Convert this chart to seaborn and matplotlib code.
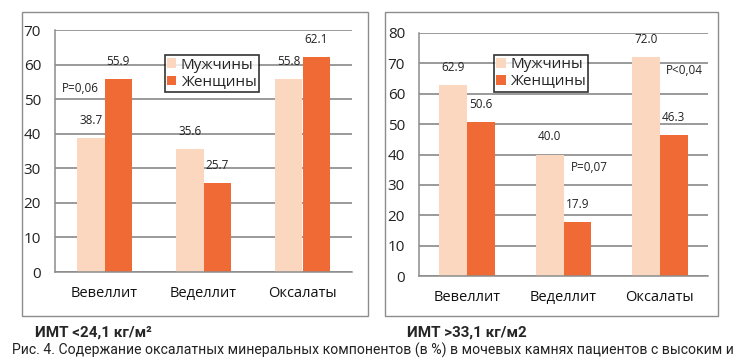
import matplotlib
matplotlib.use("Agg")
import matplotlib.pyplot as plt
import matplotlib.patches as mpatches
import seaborn as sns
import pandas as pd

sns.set_style("white")
plt.rcParams['font.family'] = ['Open Sans', 'DejaVu Sans']

# DATA
categories = ['Вевеллит', 'Веделлит', 'Оксалаты']
groups = ['Мужчины', 'Женщины']
low_men = [38.7, 35.6, 55.8]
low_women = [55.9, 25.7, 62.1]
high_men = [62.9, 40.0, 72.0]
high_women = [50.6, 17.9, 46.3]

caption_low = 'ИМТ <24,1 кг/м²'
caption_high = 'ИМТ >33,1 кг/м2'
fig_caption = ('Рис. 4. Содержание оксалатных минеральных компонентов (в %) '
               'в мочевых камнях пациентов с высоким и')

palette = {'Мужчины': '#FBD7BF', 'Женщины': '#EF6A35'}
GRID = '#7f7f7f'
cap_family = ['Roboto', 'DejaVu Sans']


def make_df(men, women):
    return pd.DataFrame({
        'cat': categories * 2,
        'sex': [groups[0]] * 3 + [groups[1]] * 3,
        'val': men + women,
    })


def draw_panel(ax, df, ymax, width, legend_box):
    sns.barplot(data=df, x='cat', y='val', hue='sex', order=categories,
                hue_order=groups, palette=palette, width=width,
                saturation=1, ax=ax, edgecolor='none', linewidth=0)
    ax.set_ylim(0, ymax)
    ax.set_xlim(-0.5, 2.5)
    ax.set_yticks(range(0, ymax + 1, 10))
    ax.yaxis.grid(True, color=GRID, linewidth=1.1)
    ax.set_axisbelow(True)
    ax.set_xlabel('')
    ax.set_ylabel('')
    for s in ['top', 'right']:
        ax.spines[s].set_visible(False)
    for s in ['left', 'bottom']:
        ax.spines[s].set_color('#8c8c8c')
        ax.spines[s].set_linewidth(1.1)
    ax.tick_params(axis='y', labelsize=11, length=4, color='#8c8c8c',
                   pad=6, labelcolor='#222222')
    ax.tick_params(axis='x', labelsize=10.5, length=0, pad=10,
                   labelcolor='#111111')
    ax.set_xticks([-0.5, 0.5, 1.5, 2.5], minor=True)
    ax.tick_params(axis='x', which='minor', length=4, color='#8c8c8c')
    for c in ax.containers:
        ax.bar_label(c, fmt='%.1f', padding=8, fontsize=8.5, color='#222222')
    leg = ax.legend(loc='upper left', bbox_to_anchor=legend_box,
                    frameon=True, fancybox=False, fontsize=11,
                    handlelength=0.6, handleheight=0.6, handletextpad=0.3,
                    borderpad=0.15, labelspacing=0.15, borderaxespad=0)
    leg.get_frame().set_edgecolor('black')
    leg.get_frame().set_linewidth(1.2)


fig = plt.figure(figsize=(7.43, 3.6), dpi=100)

# panel frames
for x0, x1 in [(22, 368), (385, 718)]:
    fig.patches.append(mpatches.Rectangle((x0 / 743, 1 - 316 / 360),
                                          (x1 - x0) / 743, 304 / 360,
                                          transform=fig.transFigure,
                                          fill=False, edgecolor='#8c8c8c',
                                          linewidth=1.0))

ax1 = fig.add_axes([55 / 743, 1 - 272 / 360, 297 / 743, 242 / 360])
draw_panel(ax1, make_df(low_men, low_women), 70, 0.55, (0.37, 0.895))
ax1.text(-0.43, 52.0, 'P=0,06', fontsize=8.5, color='#222222')

ax2 = fig.add_axes([419 / 743, 1 - 276 / 360, 289 / 743, 243 / 360])
draw_panel(ax2, make_df(high_men, high_women), 80, 0.58, (0.26, 0.91))
ax2.text(1.08, 34.5, 'P=0,07', fontsize=8.5, color='#222222')
ax2.text(2.06, 66.5, 'P<0,04', fontsize=8.5, color='#222222')

fig.text(35 / 743, 1 - 333 / 360, caption_low, fontsize=11, fontweight='bold',
         family=cap_family, va='center')
fig.text(407 / 743, 1 - 333 / 360, caption_high, fontsize=11,
         fontweight='bold', family=cap_family, va='center')
cap = fig.text(12 / 743, 1 - 350 / 360, fig_caption, fontsize=10.5,
               family=cap_family, va='center', color='#222222')

# shrink the long caption so it fits the width like in the original
r = fig.canvas.get_renderer()
w = cap.get_window_extent(renderer=r).width
cap.set_fontsize(10.5 * 718 / w)

fig.savefig('out.png', dpi=100)
